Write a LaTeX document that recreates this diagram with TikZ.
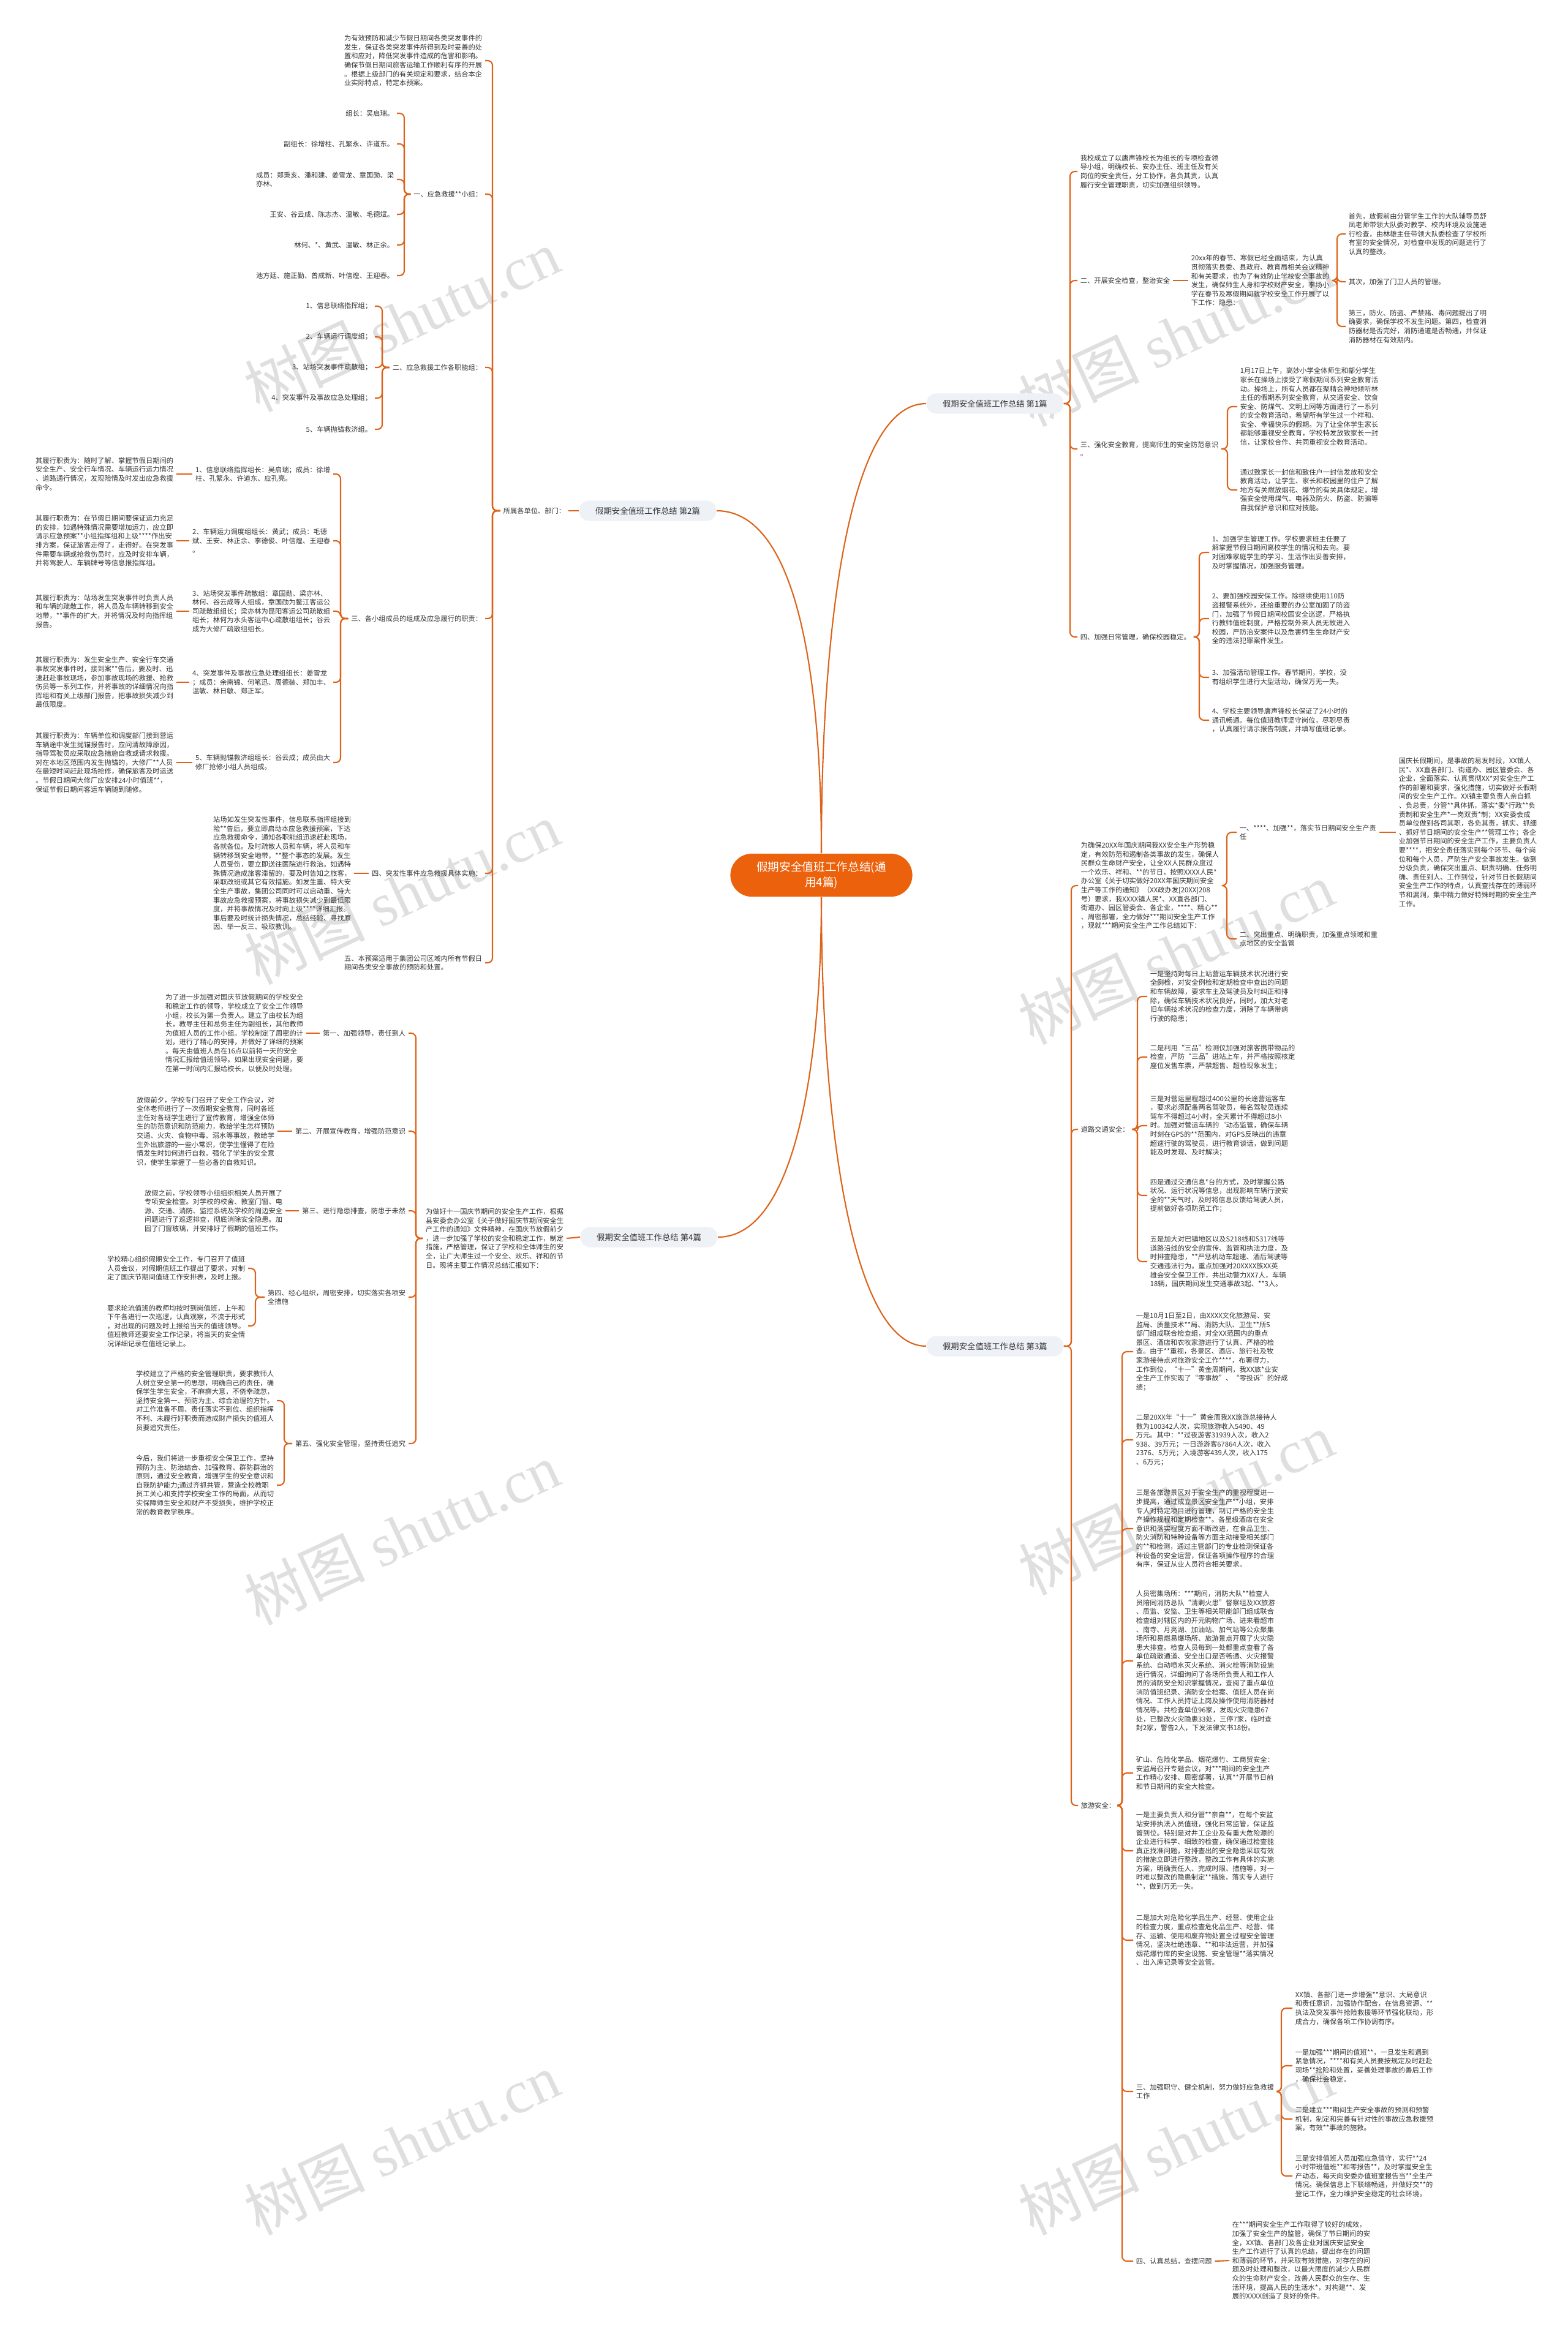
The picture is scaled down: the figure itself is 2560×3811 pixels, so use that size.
\documentclass[tikz,border=0pt]{standalone}
\usepackage{fontspec}
\setmainfont{Noto Sans CJK SC}
\newfontfamily\wmfont{Liberation Serif}
\definecolor{linecol}{RGB}{222,98,24}
\definecolor{rootfill}{RGB}{236,97,11}
\definecolor{labfill}{RGB}{238,241,246}
\definecolor{txtgray}{RGB}{51,51,51}

\begin{document}
\begin{tikzpicture}[x=0.01cm,y=-0.01cm,
	tx/.style={font=\fontsize{3.2pt}{4.15pt}\selectfont,align=left,inner sep=0pt,outer sep=1.4pt,text=txtgray},
	lab/.style={fill=labfill,rounded corners=4.5pt,inner xsep=7.5pt,inner ysep=0pt,minimum height=9.4pt,font=\fontsize{3.8pt}{4.5pt}\selectfont,text=txtgray},
	root/.style={fill=rootfill,rounded corners=10pt,text=white,align=center,minimum width=84.5pt,minimum height=20pt,font=\fontsize{5.3pt}{7.1pt}\selectfont},
	br/.style={draw=linecol,line width=0.6pt,rounded corners=2.2pt},
	mainline/.style={draw=linecol,line width=0.6pt},
	wm/.style={font=\fontsize{28pt}{30pt}\selectfont,text=gray,opacity=0.25,rotate=25}]
	\fill[white] (0,0) rectangle (2560,3811);
	\useasboundingbox (0,0) rectangle (2560,3811);
	\node[wm] (w1) at (656,523) {树图 {\wmfont shutu.cn}};
	\node[wm] (w2) at (656,1458) {树图 {\wmfont shutu.cn}};
	\node[wm] (w3) at (656,2504) {树图 {\wmfont shutu.cn}};
	\node[wm] (w4) at (656,3500) {树图 {\wmfont shutu.cn}};
	\node[wm] (w5) at (1920,547) {树图 {\wmfont shutu.cn}};
	\node[wm] (w6) at (1920,1556) {树图 {\wmfont shutu.cn}};
	\node[wm] (w7) at (1920,2455) {树图 {\wmfont shutu.cn}};
	\node[wm] (w8) at (1920,3500) {树图 {\wmfont shutu.cn}};

	\node[root] (c) at (1341,1429) {假期安全值班工作总结(通\\用4篇)};
	\node[lab,anchor=west] (b1) at (1512,659) {假期安全值班工作总结 第1篇};
	\node[lab,anchor=east] (b2) at (1170,834) {假期安全值班工作总结 第2篇};
	\node[lab,anchor=west] (b3) at (1512,2198) {假期安全值班工作总结 第3篇};
	\node[lab,anchor=east] (b4) at (1172,2020) {假期安全值班工作总结 第4篇};
	\draw[mainline] (c.north) .. controls (1341,1000) and (1390,659) .. (b1.west);
	\draw[mainline] (c.north) .. controls (1341,1100) and (1300,834) .. (b2.east);
	\draw[mainline] (c.south) .. controls (1341,1830) and (1390,2198) .. (b3.west);
	\draw[mainline] (c.south) .. controls (1341,1730) and (1300,2020) .. (b4.east);

	% 第2篇
	\node[tx,anchor=east] (s2) at (928,834) {所属各单位、部门：};
	\draw[br] (b2.west) -- (s2.east);
	\coordinate (ts2) at (804,834);
	\node[tx,anchor=east] (s2a) at (792,99) {为有效预防和减少节假日期间各类突发事件的\\发生，保证各类突发事件所得到及时妥善的处\\置和应对，降低突发事件造成的危害和影响。\\确保节假日期间旅客运输工作顺利有序的开展\\。根据上级部门的有关规定和要求，结合本企\\业实际特点，特定本预案。};
	\node[tx,anchor=east] (s2b) at (792,317) {一、应急救援**小组：};
	\node[tx,anchor=east] (s2c) at (792,600) {二、应急救援工作各职能组：};
	\node[tx,anchor=east] (s2d) at (792,1010) {三、各小组成员的组成及应急履行的职责：};
	\node[tx,anchor=east] (s2e) at (792,1426) {四、突发性事件应急救援具体实施：};
	\node[tx,anchor=east] (s2f) at (792,1572) {五、本预案适用于集团公司区域内所有节假日\\期间各类安全事故的预防和处置。};
	\draw[br] (s2.west) -- (ts2) |- (s2a.east);
	\draw[br] (s2.west) -- (ts2) |- (s2b.east);
	\draw[br] (s2.west) -- (ts2) |- (s2c.east);
	\draw[br] (s2.west) -- (ts2) |- (s2d.east);
	\draw[br] (s2.west) -- (ts2) |- (s2e.east);
	\draw[br] (s2.west) -- (ts2) |- (s2f.east);

	\coordinate (ts2b) at (660,317);
	\node[tx,anchor=east] (g1) at (648,185) {组长：吴启瑞。};
	\node[tx,anchor=east] (g2) at (648,235) {副组长：徐增柱、孔繁永、许道东。};
	\node[tx,anchor=east] (g3) at (648,293) {成员：郑秉亥、潘和建、姜雪龙、章国勋、梁\\亦林、};
	\node[tx,anchor=east] (g4) at (648,350) {王安、谷云成、陈志杰、温敏、毛德斌。};
	\node[tx,anchor=east] (g5) at (648,400) {林何、*、黄武、温敏、林正余。};
	\node[tx,anchor=east] (g6) at (648,450) {池方廷、施正勤、曾成新、叶信煌、王迎春。};
	\draw[br] (s2b.west) -- (ts2b) |- (g1.east);
	\draw[br] (s2b.west) -- (ts2b) |- (g2.east);
	\draw[br] (s2b.west) -- (ts2b) |- (g3.east);
	\draw[br] (s2b.west) -- (ts2b) |- (g4.east);
	\draw[br] (s2b.west) -- (ts2b) |- (g5.east);
	\draw[br] (s2b.west) -- (ts2b) |- (g6.east);

	\coordinate (ts2c) at (624,600);
	\node[tx,anchor=east] (f1) at (612,500) {1、信息联络指挥组；};
	\node[tx,anchor=east] (f2) at (612,550) {2、车辆运行调度组；};
	\node[tx,anchor=east] (f3) at (612,600) {3、站场突发事件疏散组；};
	\node[tx,anchor=east] (f4) at (612,650) {4、突发事件及事故应急处理组；};
	\node[tx,anchor=east] (f5) at (612,701) {5、车辆抛锚救济组。};
	\draw[br] (s2c.west) -- (ts2c) |- (f1.east);
	\draw[br] (s2c.west) -- (ts2c) |- (f2.east);
	\draw[br] (s2c.west) -- (ts2c) |- (f3.east);
	\draw[br] (s2c.west) -- (ts2c) |- (f4.east);
	\draw[br] (s2c.west) -- (ts2c) |- (f5.east);

	\coordinate (ts2d) at (556,1010);
	\node[tx,anchor=east] (d1) at (544,774) {1、信息联络指挥组长：吴启瑞；成员：徐增\\柱、孔繁永、许道东、应孔亮。};
	\node[tx,anchor=east] (d2) at (544,883) {2、车辆运力调度组组长：黄武；成员：毛德\\斌、王安、林正余、李德俊、叶信煌、王迎春\\。};
	\node[tx,anchor=east] (d3) at (544,998) {3、站场突发事件疏散组：章国勋、梁亦林、\\林何、谷云成等人组成，章国勋为鳌江客运公\\司疏散组组长；梁亦林为昆阳客运公司疏散组\\组长；林何为水头客运中心疏散组组长；谷云\\成为大修厂疏散组组长。};
	\node[tx,anchor=east] (d4) at (544,1114) {4、突发事件及事故应急处理组组长：姜雪龙\\；成员：余南锦、何笔迅、周德装、郑加丰、\\温敏、林日敏、郑正军。};
	\node[tx,anchor=east] (d5) at (544,1245) {5、车辆抛锚救济组组长：谷云成；成员由大\\修厂抢修小组人员组成。};
	\draw[br] (s2d.west) -- (ts2d) |- (d1.east);
	\draw[br] (s2d.west) -- (ts2d) |- (d2.east);
	\draw[br] (s2d.west) -- (ts2d) |- (d3.east);
	\draw[br] (s2d.west) -- (ts2d) |- (d4.east);
	\draw[br] (s2d.west) -- (ts2d) |- (d5.east);

	\node[tx,anchor=east] (r1) at (288,774) {其履行职责为：随时了解、掌握节假日期间的\\安全生产、安全行车情况、车辆运行运力情况\\、道路通行情况，发现险情及时发出应急救援\\命令。};
	\node[tx,anchor=east] (r2) at (288,883) {其履行职责为：在节假日期间要保证运力充足\\的安排，如遇特殊情况需要增加运力，应立即\\请示应急预案**小组指挥组和上级****作出安\\排方案，保证旅客走得了，走得好。在突发事\\件需要车辆或抢救伤员时，应及时安排车辆，\\并将驾驶人、车辆牌号等信息报指挥组。};
	\node[tx,anchor=east] (r3) at (288,998) {其履行职责为：站场发生突发事件时负责人员\\和车辆的疏散工作，将人员及车辆转移到安全\\地带，**事件的扩大，并将情况及时向指挥组\\报告。};
	\node[tx,anchor=east] (r4) at (288,1114) {其履行职责为：发生安全生产、安全行车交通\\事故突发事件时，接到案**告后，要及时、迅\\速赶赴事故现场，参加事故现场的救援、抢救\\伤员等一系列工作，并将事故的详细情况向指\\挥组和有关上级部门报告，把事故损失减少到\\最低限度。};
	\node[tx,anchor=east] (r5) at (288,1245) {其履行职责为：车辆单位和调度部门接到营运\\车辆途中发生抛锚报告时，应问清故障原因，\\指导驾驶员应采取应急措施自救或请求救援。\\对在本地区范围内发生抛锚的，大修厂**人员\\在最短时间赶赴现场抢修，确保旅客及时运送\\。节假日期间大修厂应安排24小时值班**，\\保证节假日期间客运车辆随到随修。};
	\draw[br] (d1.west) -- (r1.east);
	\draw[br] (d2.west) -- (r2.east);
	\draw[br] (d3.west) -- (r3.east);
	\draw[br] (d4.west) -- (r4.east);
	\draw[br] (d5.west) -- (r5.east);

	\node[tx,anchor=east] (e1) at (578,1426) {站场如发生突发性事件，信息联系指挥组接到\\险**告后，要立即启动本应急救援预案，下达\\应急救援命令，通知各职能组迅速赶赴现场，\\各就各位。及时疏散人员和车辆，将人员和车\\辆转移到安全地带，**整个事态的发展。发生\\人员受伤，要立即送往医院进行救治。如遇特\\殊情况造成旅客滞留的，要及时告知之旅客，\\采取改班或其它有效措施。如发生重、特大安\\全生产事故，集团公司同时可以启动重、特大\\事故应急救援预案，将事故损失减少到最低限\\度，并将事故情况及时向上级****详细汇报。\\事后要及时统计损失情况，总结经验、寻找原\\因、举一反三、吸取教训。};
	\draw[br] (s2e.west) -- (e1.east);

	% 第4篇
	\node[tx,anchor=east] (s4) at (925,2022) {为做好十一国庆节期间的安全生产工作，根据\\县安委会办公室《关于做好国庆节期间安全生\\产工作的通知》文件精神，在国庆节放假前夕\\，进一步加强了学校的安全和稳定工作，制定\\措施，严格管理，保证了学校和全体师生的安\\全，让广大师生过一个安全、欢乐、祥和的节\\日。现将主要工作情况总结汇报如下：};
	\draw[br] (b4.west) -- (s4.east);
	\coordinate (ts4) at (679,2022);
	\node[tx,anchor=east] (k1) at (667,1687) {第一、加强领导，责任到人};
	\node[tx,anchor=east] (k2) at (667,1847) {第二、开展宣传教育，增强防范意识};
	\node[tx,anchor=east] (k3) at (667,1977) {第三、进行隐患排查，防患于未然};
	\node[tx,anchor=east] (k4) at (667,2118) {第四、经心组织，周密安排，切实落实各项安\\全措施};
	\node[tx,anchor=east] (k5) at (667,2357) {第五、强化安全管理，坚持责任追究};
	\draw[br] (s4.west) -- (ts4) |- (k1.east);
	\draw[br] (s4.west) -- (ts4) |- (k2.east);
	\draw[br] (s4.west) -- (ts4) |- (k3.east);
	\draw[br] (s4.west) -- (ts4) |- (k4.east);
	\draw[br] (s4.west) -- (ts4) |- (k5.east);

	\node[tx,anchor=east] (k1t) at (500,1687) {为了进一步加强对国庆节放假期间的学校安全\\和稳定工作的领导，学校成立了安全工作领导\\小组，校长为第一负责人。建立了由校长为组\\长，教导主任和总务主任为副组长，其他教师\\为值班人员的工作小组。学校制定了周密的计\\划，进行了精心的安排，并做好了详细的预案\\。每天由值班人员在16点以前将一天的安全\\情况汇报给值班领导。如果出现安全问题，要\\在第一时间内汇报给校长，以便及时处理。};
	\node[tx,anchor=east] (k2t) at (453,1847) {放假前夕，学校专门召开了安全工作会议，对\\全体老师进行了一次假期安全教育，同时各班\\主任对各班学生进行了宣传教育，增强全体师\\生的防范意识和防范能力，教给学生怎样预防\\交通、火灾、食物中毒、溺水等事故，教给学\\生外出旅游的一些小常识，使学生懂得了在险\\情发生时如何进行自救。强化了学生的安全意\\识，使学生掌握了一些必备的自救知识。};
	\node[tx,anchor=east] (k3t) at (466,1977) {放假之前，学校领导小组组织相关人员开展了\\专项安全检查。对学校的校舍、教室门窗、电\\源、交通、消防、监控系统及学校的周边安全\\问题进行了巡逻排查，彻底消除安全隐患。加\\固了门窗玻璃，并安排好了假期的值班工作。};
	\draw[br] (k1.west) -- (k1t.east);
	\draw[br] (k2.west) -- (k2t.east);
	\draw[br] (k3.west) -- (k3t.east);

	\coordinate (ts4d) at (417,2118);
	\node[tx,anchor=east] (k4a) at (405,2071) {学校精心组织假期安全工作，专门召开了值班\\人员会议，对假期值班工作提出了要求，对制\\定了国庆节期间值班工作安排表，及时上报。};
	\node[tx,anchor=east] (k4b) at (405,2165) {要求轮流值班的教师均按时到岗值班，上午和\\下午各进行一次巡逻，认真观察，不流于形式\\，对出现的问题及时上报给当天的值班领导。\\值班教师还要安全工作记录，将当天的安全情\\况详细记录在值班记录上。};
	\draw[br] (k4.west) -- (ts4d) |- (k4a.east);
	\draw[br] (k4.west) -- (ts4d) |- (k4b.east);

	\coordinate (ts4e) at (464,2357);
	\node[tx,anchor=east] (k5a) at (452,2287) {学校建立了严格的安全管理职责，要求教师人\\人树立安全第一的思想，明确自己的责任，确\\保学生学生安全，不麻痹大意，不侥幸疏忽，\\坚持安全第一、预防为主、综合治理的方针。\\对工作准备不周、责任落实不到位、组织指挥\\不利、未履行好职责而造成财产损失的值班人\\员要追究责任。};
	\node[tx,anchor=east] (k5b) at (452,2425) {今后，我们将进一步重视安全保卫工作，坚持\\预防为主、防治结合、加强教育、群防群治的\\原则，通过安全教育，增强学生的安全意识和\\自我防护能力;通过齐抓共管，营造全校教职\\员工关心和支持学校安全工作的局面，从而切\\实保障师生安全和财产不受损失，维护学校正\\常的教育教学秩序。};
	\draw[br] (k5.west) -- (ts4e) |- (k5a.east);
	\draw[br] (k5.west) -- (ts4e) |- (k5b.east);

	% 第1篇
	\coordinate (tb1) at (1747,659);
	\node[tx,anchor=west] (h1) at (1759,280) {我校成立了以唐声锋校长为组长的专项检查领\\导小组，明确校长、安办主任、班主任及有关\\岗位的安全责任，分工协作，各负其责，认真\\履行安全管理职责，切实加强组织领导。};
	\node[tx,anchor=west] (h2) at (1759,458) {二、开展安全检查，整治安全};
	\node[tx,anchor=west] (h3) at (1759,733) {三、强化安全教育，提高师生的安全防范意识\\。};
	\node[tx,anchor=west] (h4) at (1759,1040) {四、加强日常管理，确保校园稳定。};
	\draw[br] (b1.east) -- (tb1) |- (h1.west);
	\draw[br] (b1.east) -- (tb1) |- (h2.west);
	\draw[br] (b1.east) -- (tb1) |- (h3.west);
	\draw[br] (b1.east) -- (tb1) |- (h4.west);

	\node[tx,anchor=west] (h2t) at (1940,458) {20xx年的春节、寒假已经全面结束，为认真\\贯彻落实县委、县政府、教育局相关会议精神\\和有关要求，也为了有效防止学校安全事故的\\发生，确保师生人身和学校财产安全，李场小\\学在春节及寒假期间就学校安全工作开展了以\\下工作：隐患：};
	\draw[br] (h2.east) -- (h2t.west);
	\coordinate (th2) at (2183,458);
	\node[tx,anchor=west] (h2a) at (2197,382) {首先，放假前由分管学生工作的大队辅导员舒\\凤老师带领大队委对教学、校内环境及设施进\\行检查，由林雄主任带领大队委检查了学校所\\有室的安全情况，对检查中发现的问题进行了\\认真的整改。};
	\node[tx,anchor=west] (h2b) at (2197,460) {其次，加强了门卫人员的管理。};
	\node[tx,anchor=west] (h2c) at (2197,533) {第三，防火、防盗、严禁赌、毒问题提出了明\\确要求，确保学校不发生问题。第四，检查消\\防器材是否完好，消防通道是否畅通，并保证\\消防器材在有效期内。};
	\draw[br] (h2t.east) -- (th2) |- (h2a.west);
	\draw[br] (h2t.east) -- (th2) |- (h2b.west);
	\draw[br] (h2t.east) -- (th2) |- (h2c.west);

	\coordinate (th3) at (2004,733);
	\node[tx,anchor=west] (h3a) at (2020,664) {1月17日上午，高妙小学全体师生和部分学生\\家长在操场上接受了寒假期间系列安全教育活\\动。操场上，所有人员都在聚精会神地倾听林\\主任的假期系列安全教育，从交通安全、饮食\\安全、防煤气、文明上网等方面进行了一系列\\的安全教育活动，希望所有学生过一个祥和、\\安全、幸福快乐的假期。为了让全体学生家长\\都能够重视安全教育，学校特发放致家长一封\\信，让家校合作、共同重视安全教育活动。};
	\node[tx,anchor=west] (h3b) at (2020,800) {通过致家长一封信和致住户一封信发放和安全\\教育活动，让学生、家长和校园里的住户了解\\地方有关燃放烟花、爆竹的有关具体规定，增\\强安全使用煤气、电器及防火、防盗、防骗等\\自我保护意识和应对技能。};
	\draw[br] (h3.east) -- (th3) |- (h3a.west);
	\draw[br] (h3.east) -- (th3) |- (h3b.west);

	\coordinate (th4) at (1958,1040);
	\node[tx,anchor=west] (h4a) at (1974,902) {1、加强学生管理工作。学校要求班主任要了\\解掌握节假日期间离校学生的情况和去向。要\\对困难家庭学生的学习、生活作出妥善安排，\\及时掌握情况，加强服务管理。};
	\node[tx,anchor=west] (h4b) at (1974,1010) {2、要加强校园安保工作。除继续使用110防\\盗报警系统外，还给重要的办公室加固了防盗\\门，加强了节假日期间校园安全巡逻，严格执\\行教师值班制度，严格控制外来人员无故进入\\校园，严防治安案件以及危害师生生命财产安\\全的违法犯罪案件发生。};
	\node[tx,anchor=west] (h4c) at (1974,1106) {3、加强活动管理工作。春节期间，学校，没\\有组织学生进行大型活动，确保万无一失。};
	\node[tx,anchor=west] (h4d) at (1974,1176) {4、学校主要领导唐声锋校长保证了24小时的\\通讯畅通。每位值班教师坚守岗位，尽职尽责\\，认真履行请示报告制度，并填写值班记录。};
	\draw[br] (h4.east) -- (th4) |- (h4a.west);
	\draw[br] (h4.east) -- (th4) |- (h4b.west);
	\draw[br] (h4.east) -- (th4) |- (h4c.west);
	\draw[br] (h4.east) -- (th4) |- (h4d.west);

	% 第3篇
	\coordinate (tb3) at (1749,2198);
	\node[tx,anchor=west] (q1) at (1760,1446) {为确保20XX年国庆期间我XX安全生产形势稳\\定，有效防范和遏制各类事故的发生，确保人\\民群众生命财产安全，让全XX人民群众度过\\一个欢乐、祥和、**的节日，按照XXXX人民*\\办公室《关于切实做好20XX年国庆期间安全\\生产等工作的通知》（XX政办发[20XX]208\\号）要求，我XXXX镇人民*、XX直各部门、\\街道办、园区管委会、各企业，****、精心**\\、周密部署，全力做好***期间安全生产工作\\，现就***期间安全生产工作总结如下：};
	\node[tx,anchor=west] (q2) at (1760,1844) {道路交通安全：};
	\node[tx,anchor=west] (q3) at (1760,2948) {旅游安全：};
	\draw[br] (b3.east) -- (tb3) |- (q1.west);
	\draw[br] (b3.east) -- (tb3) |- (q2.west);
	\draw[br] (b3.east) -- (tb3) |- (q3.west);

	\coordinate (tq1) at (2003,1446);
	\node[tx,anchor=west] (q1a) at (2019,1359) {一、****、加强**，落实节日期间安全生产责\\任};
	\node[tx,anchor=west] (q1b) at (2019,1533) {二、突出重点、明确职责，加强重点领域和重\\点地区的安全监管};
	\draw[br] (q1.east) -- (tq1) |- (q1a.west);
	\draw[br] (q1.east) -- (tq1) |- (q1b.west);
	\node[tx,anchor=west] (q1at) at (2279,1359) {国庆长假期间，是事故的易发时段，XX镇人\\民*、XX直各部门、街道办、园区管委会、各\\企业，全面落实、认真贯彻XX*对安全生产工\\作的部署和要求，强化措施，切实做好长假期\\间的安全生产工作。XX镇主要负责人亲自抓\\、负总责，分管**具体抓，落实*委*行政**负\\责制和安全生产*一岗双责*制；XX安委会成\\员单位做到各司其职，各负其责，抓实、抓细\\、抓好节日期间的安全生产**管理工作；各企\\业加强节日期间的安全生产工作，主要负责人\\要****，把安全责任落实到每个环节、每个岗\\位和每个人员，严防生产安全事故发生。做到\\分级负责，确保突出重点、职责明确、任务明\\确、责任到人、工作到位，针对节日长假期间\\安全生产工作的特点，认真查找存在的薄弱环\\节和漏洞，集中精力做好特殊时期的安全生产\\工作。};
	\draw[br] (q1a.east) -- (q1at.west);

	\coordinate (tq2) at (1857,1844);
	\node[tx,anchor=west] (q2a) at (1873,1627) {一是坚持对每日上站营运车辆技术状况进行安\\全例检，对安全例检和定期检查中查出的问题\\和车辆故障，要求车主及驾驶员及时纠正和排\\除，确保车辆技术状况良好，同时，加大对老\\旧车辆技术状况的检查力度，消除了车辆带病\\行驶的隐患；};
	\node[tx,anchor=west] (q2b) at (1873,1726) {二是利用“三品”检测仪加强对旅客携带物品的\\检查，严防“三品”进站上车，并严格按照核定\\座位发售车票，严禁超售、超检现象发生；};
	\node[tx,anchor=west] (q2c) at (1873,1838) {三是对营运里程超过400公里的长途营运客车\\，要求必须配备两名驾驶员，每名驾驶员连续\\驾车不得超过4小时，全天累计不得超过8小\\时。加强对营运车辆的`动态监管，确保车辆\\时刻在GPS的**范围内，对GPS反映出的违章\\超速行驶的驾驶员，进行教育谈话，做到问题\\能及时发现、及时解决；};
	\node[tx,anchor=west] (q2d) at (1873,1952) {四是通过交通信息*台的方式，及时掌握公路\\状况、运行状况等信息，出现影响车辆行驶安\\全的**天气时，及时将信息反馈给驾驶人员，\\提前做好各项防范工作；};
	\node[tx,anchor=west] (q2e) at (1873,2060) {五是加大对巴镇地区以及S218线和S317线等\\道路沿线的安全的宣传、监管和执法力度，及\\时排查隐患，**严惩机动车超速、酒后驾驶等\\交通违法行为。重点加强对20XXXX族XX英\\雄会安全保卫工作，共出动警力XX7人，车辆\\18辆，国庆期间发生交通事故3起、**3人。};
	\draw[br] (q2.east) -- (tq2) |- (q2a.west);
	\draw[br] (q2.east) -- (tq2) |- (q2b.west);
	\draw[br] (q2.east) -- (tq2) |- (q2c.west);
	\draw[br] (q2.east) -- (tq2) |- (q2d.west);
	\draw[br] (q2.east) -- (tq2) |- (q2e.west);

	\coordinate (tq3) at (1832,2948);
	\node[tx,anchor=west] (q3a) at (1850,2207) {一是10月1日至2日，由XXXX文化旅游局、安\\监局、质量技术**局、消防大队、卫生**所5\\部门组成联合检查组，对全XX范围内的重点\\景区、酒店和农牧家游进行了认真、严格的检\\查。由于**重视，各景区、酒店、旅行社及牧\\家游接待点对旅游安全工作****，布署得力，\\工作到位，“十一”黄金周期间，我XX旅*业安\\全生产工作实现了“零事故”、“零投诉”的好成\\绩；};
	\node[tx,anchor=west] (q3b) at (1850,2351) {二是20XX年“十一”黄金周我XX旅游总接待人\\数为100342人次，实现旅游收入5490、49\\万元。其中：**过夜游客31939人次，收入2\\938、39万元；一日游游客67864人次，收入\\2376、5万元；入境游客439人次，收入175\\、6万元；};
	\node[tx,anchor=west] (q3c) at (1850,2496) {三是各旅游景区对于安全生产的重视程度进一\\步提高，通过成立景区安全生产**小组，安排\\专人对特定项目进行管理，制订严格的安全生\\产操作规程和定期检查**。各星级酒店在安全\\意识和落实程度方面不断改进，在食品卫生、\\防火消防和特种设备等方面主动接受相关部门\\的**和检测，通过主管部门的专业检测保证各\\种设备的安全运营，保证各项操作程序的合理\\有序，保证从业人员符合相关要求。};
	\node[tx,anchor=west] (q3d) at (1850,2712) {人员密集场所：***期间，消防大队**检查人\\员陪同消防总队“清剿火患”督察组及XX旅游\\、质监、安监、卫生等相关职能部门组成联合\\检查组对辖区内的开元购物广场、进来看超市\\、南寺、月亮湖、加油站、加气站等公众聚集\\场所和易燃易爆场所、旅游景点开展了火灾隐\\患大排查。检查人员每到一处都重点查看了各\\单位疏散通道、安全出口是否畅通、火灾报警\\系统、自动喷水灭火系统、消火栓等消防设施\\运行情况，详细询问了各场所负责人和工作人\\员的消防安全知识掌握情况，查阅了重点单位\\消防值班纪录、消防安全档案、值班人员在岗\\情况、工作人员持证上岗及操作使用消防器材\\情况等。共检查单位96家，发现火灾隐患67\\处，已整改火灾隐患33处，三停7家，临时查\\封2家，警告2人，下发法律文书18份。};
	\node[tx,anchor=west] (q3e) at (1850,2895) {矿山、危险化学品、烟花爆竹、工商贸安全：\\安监局召开专题会议，对***期间的安全生产\\工作精心安排、周密部署，认真**开展节日前\\和节日期间的安全大检查。};
	\node[tx,anchor=west] (q3f) at (1850,3022) {一是主要负责人和分管**亲自**，在每个安监\\站安排执法人员值班，强化日常监管，保证监\\管到位。特别是对井工企业及有重大危险源的\\企业进行科学、细致的检查，确保通过检查能\\真正找准问题，对排查出的安全隐患采取有效\\的措施立即进行整改，整改工作有具体的实施\\方案，明确责任人、完成时限、措施等，对一\\时难以整改的隐患制定**措施，落实专人进行\\**，做到万无一失。};
	\node[tx,anchor=west] (q3g) at (1850,3168) {二是加大对危险化学品生产、经营、使用企业\\的检查力度，重点检查危化品生产、经营、储\\存、运输、使用和废弃物处置全过程安全管理\\情况，坚决杜绝违章、**和非法运营，并加强\\烟花爆竹库的安全设施、安全管理**落实情况\\、出入库记录等安全监管。};
	\node[tx,anchor=west] (q3h) at (1850,3415) {三、加强职守、健全机制，努力做好应急救援\\工作};
	\node[tx,anchor=west] (q3i) at (1850,3692) {四、认真总结，查摆问题};
	\draw[br] (q3.east) -- (tq3) |- (q3a.west);
	\draw[br] (q3.east) -- (tq3) |- (q3b.west);
	\draw[br] (q3.east) -- (tq3) |- (q3c.west);
	\draw[br] (q3.east) -- (tq3) |- (q3d.west);
	\draw[br] (q3.east) -- (tq3) |- (q3e.west);
	\draw[br] (q3.east) -- (tq3) |- (q3f.west);
	\draw[br] (q3.east) -- (tq3) |- (q3g.west);
	\draw[br] (q3.east) -- (tq3) |- (q3h.west);
	\draw[br] (q3.east) -- (tq3) |- (q3i.west);

	\coordinate (tq3h) at (2092,3415);
	\node[tx,anchor=west] (q3ha) at (2110,3279) {XX镇、各部门进一步增强**意识、大局意识\\和责任意识，加强协作配合，在信息资源、**\\执法及突发事件抢险救援等环节强化联动，形\\成合力，确保各项工作协调有序。};
	\node[tx,anchor=west] (q3hb) at (2110,3373) {一是加强***期间的值班**，一旦发生和遇到\\紧急情况，****和有关人员要按规定及时赶赴\\现场**抢险和处置，妥善处理事故的善后工作\\，确保社会稳定。};
	\node[tx,anchor=west] (q3hc) at (2110,3460) {二是建立***期间生产安全事故的预测和预警\\机制，制定和完善有针对性的事故应急救援预\\案，有效**事故的施救。};
	\node[tx,anchor=west] (q3hd) at (2110,3553) {三是安排值班人员加强应急值守，实行**24\\小时带班值班**和零报告**，及时掌握安全生\\产动态，每天向安委办值班室报告当**全生产\\情况。确保信息上下联络畅通，并做好交**的\\登记工作，全力维护安全稳定的社会环境。};
	\draw[br] (q3h.east) -- (tq3h) |- (q3ha.west);
	\draw[br] (q3h.east) -- (tq3h) |- (q3hb.west);
	\draw[br] (q3h.east) -- (tq3h) |- (q3hc.west);
	\draw[br] (q3h.east) -- (tq3h) |- (q3hd.west);

	\node[tx,anchor=west] (q3it) at (2007,3691) {在***期间安全生产工作取得了较好的成效，\\加强了安全生产的监管，确保了节日期间的安\\全，XX镇、各部门及各企业对国庆安监安全\\生产工作进行了认真的总结，提出存在的问题\\和薄弱的环节，并采取有效措施，对存在的问\\题及时处理和整改，以最大限度的减少人民群\\众的生命财产安全，改善人民群众的生存、生\\活环境，提高人民的生活水*，对构建**、发\\展的XXXX创造了良好的条件。};
	\draw[br] (q3i.east) -- (q3it.west);
\end{tikzpicture}
\end{document}
